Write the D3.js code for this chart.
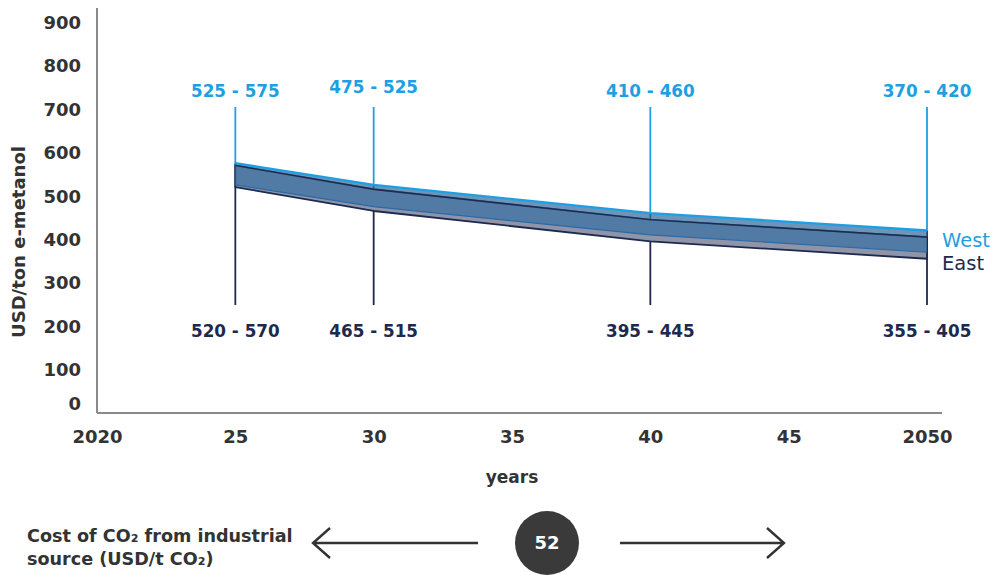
<!DOCTYPE html>
<html>
<head>
<meta charset="utf-8">
<script src="https://cdn.jsdelivr.net/npm/d3@7"></script>
<style>
  html, body { margin: 0; padding: 0; background: #fff; }
  svg { display: block; font-family: "DejaVu Sans", sans-serif; }
</style>
</head>
<body>
<svg id="chart" width="994" height="575"></svg>
<script>
// Cost ranges of e-methanol by year (USD/ton)
const years = [2025, 2030, 2040, 2050];
const westLow = [525, 475, 410, 370];
const westHigh = [575, 525, 460, 420];
const eastLow = [520, 465, 395, 355];
const eastHigh = [570, 515, 445, 405];

const xTicks = [2020, 2025, 2030, 2035, 2040, 2045, 2050];
const xTickLabels = ["2020", "25", "30", "35", "40", "45", "2050"];
const yTicks = [0, 100, 200, 300, 400, 500, 600, 700, 800, 900];

const co2Cost = 52;

const BLUE = "#1e9fe2";
const NAVY = "#1d2a4e";
const GREY = "#8f94a8";
const INK = "#333333";

const svg = d3.select("#chart");

const x = d3.scaleLinear().domain([2020, 2050]).range([97, 927]);
const y = d3.scaleLinear().domain([0, 900]).range([413, 22]);

// axis lines
svg.append("line").attr("x1", 97).attr("x2", 97).attr("y1", 8).attr("y2", 413)
  .attr("stroke", "#8a8a8a").attr("stroke-width", 2);
svg.append("line").attr("x1", 97).attr("x2", 942).attr("y1", 413).attr("y2", 413)
  .attr("stroke", "#8a8a8a").attr("stroke-width", 2);

// y tick labels
const yAxis = svg.append("g").attr("transform", "translate(97,0)")
  .call(d3.axisLeft(y).tickValues(yTicks).tickSize(0).tickPadding(16));
yAxis.select(".domain").remove();
yAxis.selectAll("text")
  .attr("font-family", "DejaVu Sans").attr("font-weight", "bold")
  .attr("font-size", 18).attr("fill", INK)
  .attr("dy", d => d === 0 ? "-0.17em" : "0.35em");

// x tick labels
const xAxis = svg.append("g").attr("transform", "translate(0,413)")
  .call(d3.axisBottom(x).tickValues(xTicks).tickSize(0).tickPadding(17)
    .tickFormat((d, i) => xTickLabels[i]));
xAxis.select(".domain").remove();
xAxis.selectAll("text")
  .attr("font-family", "DejaVu Sans").attr("font-weight", "bold")
  .attr("font-size", 18).attr("fill", INK);

// axis titles
svg.append("text").attr("transform", "translate(25,242) rotate(-90)")
  .attr("text-anchor", "middle").attr("font-weight", "bold")
  .attr("font-size", 18).attr("fill", INK).text("USD/ton e-metanol");
svg.append("text").attr("x", 512).attr("y", 483)
  .attr("text-anchor", "middle").attr("font-weight", "bold")
  .attr("font-size", 17).attr("fill", INK).text("years");

// vertical marker lines at the labelled years
const pts = years.map((yr, i) => ({
  yr, wl: westLow[i], wh: westHigh[i], el: eastLow[i], eh: eastHigh[i]
}));
svg.selectAll(".vup").data(pts).join("line")
  .attr("x1", d => x(d.yr)).attr("x2", d => x(d.yr))
  .attr("y1", 107).attr("y2", d => y(d.wh))
  .attr("stroke", BLUE).attr("stroke-width", 1.8);
svg.selectAll(".vdown").data(pts).join("line")
  .attr("x1", d => x(d.yr)).attr("x2", d => x(d.yr))
  .attr("y1", d => y(d.wh)).attr("y2", 305)
  .attr("stroke", NAVY).attr("stroke-width", 1.8);

// East band
const eastArea = d3.area().x(d => x(d.yr)).y0(d => y(d.el)).y1(d => y(d.eh));
svg.append("path").datum(pts).attr("d", eastArea)
  .attr("fill", GREY).attr("stroke", NAVY).attr("stroke-width", 1.8)
  .attr("stroke-linejoin", "round");

// West band
const westArea = d3.area().x(d => x(d.yr)).y0(d => y(d.wl)).y1(d => y(d.wh));
svg.append("path").datum(pts).attr("d", westArea)
  .attr("fill", "#3c72a3").attr("fill-opacity", 0.75)
  .attr("stroke", "none");
svg.append("path").datum(pts)
  .attr("d", d3.line().x(d => x(d.yr)).y(d => y(d.wh)))
  .attr("fill", "none").attr("stroke", BLUE).attr("stroke-width", 2.4);
svg.append("path").datum(pts)
  .attr("d", d3.line().x(d => x(d.yr)).y(d => y(d.wl)))
  .attr("fill", "none").attr("stroke", "#2a6aa8").attr("stroke-width", 1.2);
svg.append("path").datum(pts)
  .attr("d", d3.line().x(d => x(d.yr)).y(d => y(d.eh)))
  .attr("fill", "none").attr("stroke", NAVY).attr("stroke-width", 1.4);

// range labels
svg.selectAll(".lw").data(pts).join("text")
  .attr("x", d => x(d.yr)).attr("y", d => d.yr === 2030 ? 93 : 97)
  .attr("text-anchor", "middle").attr("font-weight", "bold")
  .attr("font-size", 16.8).attr("fill", BLUE)
  .text(d => `${d.wl} - ${d.wh}`);
svg.selectAll(".le").data(pts).join("text")
  .attr("x", d => x(d.yr)).attr("y", 337)
  .attr("text-anchor", "middle").attr("font-weight", "bold")
  .attr("font-size", 16.8).attr("fill", NAVY)
  .text(d => `${d.el} - ${d.eh}`);

// legend
svg.append("text").attr("x", 942).attr("y", 247).attr("font-size", 19.5)
  .attr("fill", BLUE).text("West");
svg.append("text").attr("x", 942).attr("y", 270).attr("font-size", 19.5)
  .attr("fill", NAVY).text("East");

// CO2 cost indicator
const foot = svg.append("text").attr("font-weight", "bold")
  .attr("font-size", 17.6).attr("fill", INK);
foot.append("tspan").attr("x", 27).attr("y", 542).text("Cost of CO₂ from industrial");
foot.append("tspan").attr("x", 27).attr("y", 565).text("source (USD/t CO₂)");

const arrowY = 543;
svg.append("path")
  .attr("d", `M478,${arrowY}H313 M330,${arrowY - 15}L313,${arrowY}L330,${arrowY + 15}`)
  .attr("fill", "none").attr("stroke", INK).attr("stroke-width", 2.4);
svg.append("path")
  .attr("d", `M620,${arrowY}H784 M767,${arrowY - 15}L784,${arrowY}L767,${arrowY + 15}`)
  .attr("fill", "none").attr("stroke", INK).attr("stroke-width", 2.4);
svg.append("circle").attr("cx", 547).attr("cy", arrowY).attr("r", 32)
  .attr("fill", "#3a3a3a");
svg.append("text").attr("x", 547).attr("y", arrowY).attr("dy", "0.35em")
  .attr("text-anchor", "middle").attr("font-weight", "bold")
  .attr("font-size", 18).attr("fill", "#fff").text(co2Cost);
</script>
</body>
</html>
